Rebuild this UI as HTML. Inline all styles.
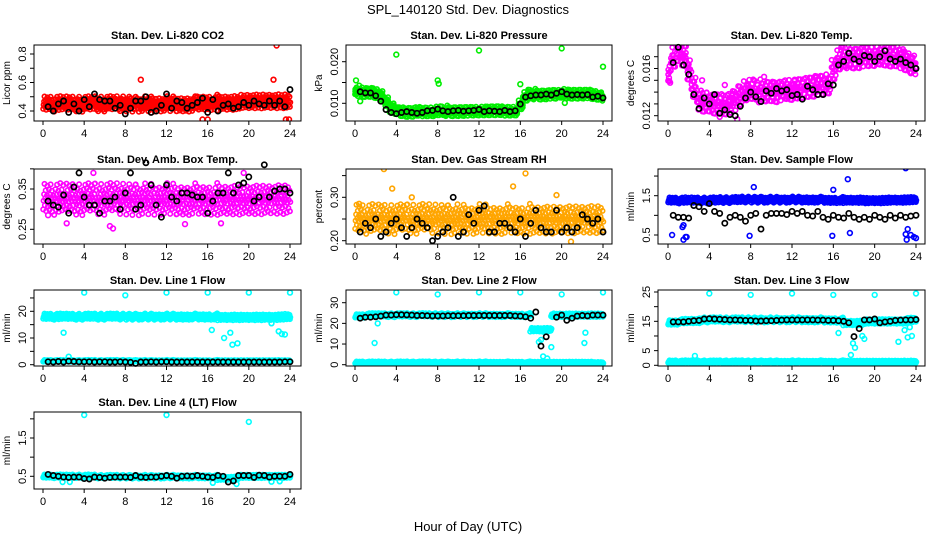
<!DOCTYPE html>
<html><head><meta charset="utf-8"><style>
html,body{margin:0;padding:0;background:#fff}
svg{display:block;font-family:"Liberation Sans",sans-serif}
</style></head><body>
<svg id="chart" width="936" height="540" viewBox="0 0 936 540">
<text x="468" y="14" text-anchor="middle" font-size="13">SPL_140120  Std. Dev. Diagnostics</text>
<text x="468" y="531" text-anchor="middle" font-size="13">Hour of Day (UTC)</text>
</svg>
<script>
// ---------- data ----------
const xTicks = [0,4,8,12,16,20,24];
const blackHours = [0.5,1,1.5,2,2.5,3,3.5,4,4.5,5,5.5,6,6.5,7,7.5,8,8.5,9,9.5,10,10.5,11,11.5,12,12.5,13,13.5,14,14.5,15,15.5,16,16.5,17,17.5,18,18.5,19,19.5,20,20.5,21,21.5,22,22.5,23,23.5,24];

const co2Black = [0.43,0.40,0.45,0.47,0.39,0.45,0.40,0.48,0.43,0.52,0.48,0.47,0.47,0.42,0.44,0.38,0.42,0.47,0.47,0.50,0.39,0.40,0.44,0.52,0.42,0.47,0.46,0.42,0.44,0.46,0.49,0.39,0.48,0.40,0.44,0.45,0.42,0.43,0.46,0.44,0.47,0.45,0.44,0.47,0.44,0.47,0.43,0.55];
const co2Color = [0.45,0.45,0.45,0.45,0.45,0.45,0.45,0.45,0.46,0.46,0.47,0.47,0.47];
const co2Out = [[9.5,0.62],[22.4,0.62],[22.7,0.86],[15.5,0.34],[16,0.34],[23.6,0.34],[23.9,0.34]];

const presBlack = [0.0128,0.0125,0.0125,0.0118,0.0105,0.0085,0.0078,0.0075,0.0078,0.0080,0.0078,0.0076,0.0078,0.0082,0.0083,0.0086,0.0082,0.0080,0.0082,0.0083,0.0081,0.0082,0.0083,0.0085,0.0080,0.0082,0.0081,0.0080,0.0083,0.0080,0.0082,0.0098,0.0115,0.0118,0.0120,0.0120,0.0122,0.0120,0.0124,0.0128,0.0122,0.0120,0.0121,0.0120,0.0121,0.0115,0.0117,0.0113];
const presColor = [0.013,0.013,0.0128,0.0128,0.0125,0.012,0.0105,0.009,0.0085,0.008,0.0078,0.0078,0.008,0.0078,0.0078,0.0078,0.008,0.008,0.0082,0.0082,0.0082,0.0082,0.0082,0.0082,0.0082,0.0082,0.0082,0.0082,0.0082,0.008,0.008,0.008,0.0095,0.0115,0.012,0.0122,0.0122,0.0122,0.0123,0.0123,0.0125,0.0123,0.0122,0.0122,0.0122,0.0122,0.012,0.0118,0.0115];
const presOut = [[0.1,0.0155],[4,0.0217],[8,0.0155],[8.1,0.0147],[12,0.0227],[16,0.0146],[20,0.0232],[24,0.0188],[0.5,0.0105],[20.3,0.0101]];

const tempBlack = [0.0165,0.0178,0.0163,0.0155,0.0138,0.0126,0.0135,0.0130,0.0138,0.0122,0.0125,0.0121,0.0120,0.0128,0.0135,0.0140,0.0136,0.0132,0.0141,0.0139,0.0143,0.0141,0.0142,0.0137,0.0138,0.0134,0.0145,0.0142,0.0138,0.0138,0.0147,0.0146,0.0163,0.0166,0.0173,0.0168,0.0166,0.0171,0.0170,0.0166,0.0170,0.0175,0.0168,0.0166,0.0168,0.0165,0.0163,0.0160];
const tempColor = [0.0156,0.0168,0.0176,0.0172,0.0160,0.0145,0.0134,0.0132,0.0132,0.0130,0.0130,0.0129,0.0130,0.0132,0.0136,0.0140,0.0141,0.0140,0.0141,0.0142,0.0142,0.0141,0.0142,0.0143,0.0142,0.0143,0.0143,0.0144,0.0144,0.0145,0.0145,0.0146,0.0158,0.0166,0.0168,0.0170,0.0170,0.0170,0.0171,0.0171,0.0171,0.0172,0.0171,0.0170,0.0170,0.0168,0.0166,0.0164,0.0162];
const tempOut = [[0.1,0.0152],[0.2,0.0148],[3.3,0.0150],[5.5,0.0146],[5.0,0.0119],[6.7,0.0117],[9.3,0.0153],[11.5,0.0136],[23.5,0.0156]];

const ambBlack = [0.32,0.31,0.305,0.335,0.29,0.355,0.39,0.33,0.31,0.31,0.29,0.32,0.32,0.33,0.30,0.34,0.39,0.30,0.31,0.415,0.36,0.31,0.28,0.36,0.33,0.32,0.34,0.34,0.335,0.33,0.33,0.29,0.32,0.34,0.34,0.39,0.34,0.36,0.365,0.38,0.32,0.33,0.41,0.33,0.345,0.35,0.35,0.34];
const ambColor = [0.325,0.325,0.325,0.325,0.325,0.325,0.325,0.325,0.325,0.325,0.325,0.325,0.325];
const ambOut = [[2.3,0.265],[4.9,0.39],[6.5,0.258],[6.8,0.252],[13.8,0.263],[17.3,0.265],[19.5,0.39],[0.5,0.285],[17.6,0.205]];

const rhBlack = [0.22,0.24,0.23,0.25,0.21,0.22,0.24,0.25,0.23,0.21,0.23,0.25,0.24,0.23,0.20,0.21,0.22,0.23,0.30,0.21,0.22,0.26,0.24,0.27,0.28,0.22,0.22,0.24,0.24,0.23,0.22,0.25,0.21,0.24,0.27,0.23,0.22,0.22,0.27,0.22,0.23,0.22,0.23,0.26,0.25,0.24,0.25,0.22];
const rhColor = [0.25,0.25,0.25,0.25,0.25,0.25,0.25,0.25,0.25,0.25,0.25,0.25,0.25];
const rhOut = [[2.8,0.365],[3.6,0.32],[15.3,0.325],[16.5,0.355],[19.5,0.305],[20.9,0.198],[0.4,0.285],[5.5,0.30]];

const flowBlack = [1.0,0.95,0.95,0.93,1.25,1.22,1.1,1.3,1.1,1.05,0.8,0.95,1.0,0.95,0.85,1.0,1.05,0.65,1.0,1.05,1.05,1.05,1.02,1.1,1.05,1.1,1.0,0.98,1.1,0.95,0.9,1.0,0.95,0.93,1.05,0.95,0.9,0.95,0.9,1.0,0.95,0.9,1.0,0.93,1.0,0.95,0.98,1.0];
const flowColor = [1.38,1.38,1.38,1.39,1.40,1.40,1.40,1.40,1.39,1.39,1.38,1.39,1.40];
const flowOut = [[0.4,0.5],[1.4,0.7],[1.5,0.75],[1.5,0.38],[1.7,0.45],[1.8,0.45],[8.3,1.72],[7.9,0.48],[15.9,0.48],[16,1.65],[17.4,1.92],[17.6,0.55],[23,2.2],[23.2,0.65],[23.1,0.38],[23.5,0.5],[23.8,0.45],[24,0.42],[23.0,0.52]];

const l1Black = [1.1,1.0,1.2,1.0,1.3,1.2,1.1,1.1,1.1,1.0,1.1,1.1,1.0,1.0,1.1,1.0,0.9,0.5,1.0,1.0,1.1,1.0,1.1,1.1,1.0,1.0,1.0,1.0,1.0,1.0,1.0,1.0,1.0,1.0,1.0,1.0,1.0,1.0,1.0,1.0,1.0,1.0,1.0,1.0,1.0,1.0,1.1,1.1];
const l1High = [18,18,18,18,18,18,18,18,18,17.8,17.8,17.8,18];
const l1Low = [1.4,1.4,1.4,1.4,1.4,1.4,1.4,1.4,1.4,1.4,1.4,1.4,1.4];
const l1Out = [[4,27],[8,26],[12,27],[16,27],[20,27],[24,27],[2,12],[2.5,3],[16.4,13],[17.6,10],[18.2,12],[18.4,7.5],[18.9,8],[22.9,12.5],[23.2,11.5],[23.5,11.3],[22.2,15.5]];

const l2Black = [22.5,23,23,23.2,23.5,24,24,24.2,24.2,24.1,24,23.8,23.8,23.7,23.6,23.6,23.6,23.7,23.7,23.7,23.7,23.8,23.8,23.8,23.8,23.8,23.8,23.8,23.8,23.8,23.6,23.5,23.2,22.5,25.5,9,13.5,null,23,24,21.5,22.5,23.5,23.8,23.6,24,24,24];
const l2High = [23.5,24,24,24,24,24,24,24,24,17,24,24,24];
const l2Low = [1,1,1,1,1,1,1,1,1,1,1,1,0.8];
const l2Out = [[4,35],[8,34],[12,35],[16,35],[20,34],[24,35],[1.9,10.5],[2.2,20],[17.8,11],[18,12],[18.2,4],[18.6,3],[19,8.5],[18.2,16],[22.3,15.5],[22.2,10.5]];

const l3Black = [14.8,14.8,14.8,15,15.2,15.3,15.8,15.9,15.8,15.7,15.6,15.5,15.5,15.4,15.3,15.3,15.1,15.1,15.2,15.2,15.3,15.4,15.5,15.5,15.5,15.5,15.5,15.5,15.4,15.4,15.3,15.3,15.2,15,14.5,9.8,12.5,15.5,15.5,15.8,14.5,14.8,15,15.3,15.4,15.5,15.5,15.6];
const l3High = [14.5,15,15.5,15.5,15.5,15.5,15.5,15.5,15.4,14.5,15,15,15.5];
const l3Low = [1.2,1.2,1.2,1.2,1.2,1.2,1.2,1.2,1.2,1.2,1.2,1.2,1.2];
const l3Out = [[4,24.5],[8,24],[12,24.5],[16,24],[20,24],[24,24.5],[2.6,3.2],[16.5,11],[17.7,3.5],[17.9,7.5],[18.1,6],[18.8,10],[19,9],[22.3,8],[22.9,12],[23.2,9.5],[23.4,13],[23.6,10],[1.6,0.3],[17.6,0.3]];

const l4Black = [0.55,0.52,0.50,0.48,0.47,0.48,0.48,0.44,0.43,0.48,0.47,0.45,0.47,0.48,0.48,0.48,0.47,0.52,0.48,0.47,0.48,0.48,0.50,0.52,0.50,0.45,0.50,0.51,0.50,0.52,0.50,0.48,0.47,0.52,0.50,0.35,0.38,0.52,0.52,0.52,0.47,0.53,0.52,0.48,0.50,0.50,0.50,0.55];
const l4Color = [0.50,0.50,0.50,0.49,0.49,0.49,0.49,0.49,0.49,0.45,0.50,0.50,0.50];
const l4Out = [[4,2.1],[12,2.1],[20,1.92],[1.9,0.35],[2.6,0.35],[16.5,0.33],[18.8,0.3],[22.2,0.36],[23.0,0.37]];

// ---------- layout ----------
const cols = [{x0:34,x1:301,h0:43,h24:290},{x0:346,x1:612,h0:355,h24:603},{x0:658,x1:925,h0:668,h24:916}];
const rows = [{y0:45,y1:121},{y0:169,y1:244},{y0:290,y1:366},{y0:412,y1:489}];
const MAG='#ff00ff', CY='#00ffff';
const panels = [
 {name:'co2',title:'Stan. Dev. Li-820 CO2',ylab:'Licor ppm',c:0,r:0,cal:[0.4,111,0.8,54],ticks:[0.4,0.5,0.6,0.7,0.8],labels:[0.4,0.6,0.8],fmt:1,black:co2Black,bands:[[co2Color,0.055]],col:'#ff0000',out:co2Out},
 {name:'pressure',title:'Stan. Dev. Li-820 Pressure',ylab:'kPa',c:1,r:0,cal:[0.010,103.3,0.020,61.7],ticks:[0.010,0.015,0.020],labels:[0.010,0.020],fmt:3,black:presBlack,bands:[[presColor,0.0013]],col:'#00ee00',out:presOut},
 {name:'temp',title:'Stan. Dev. Li-820 Temp.',ylab:'degrees C',c:2,r:0,cal:[0.012,115.7,0.016,68.5],ticks:[0.012,0.013,0.014,0.015,0.016,0.017],labels:[0.012,0.016],fmt:3,black:tempBlack,bands:[[tempColor,0.0010]],col:MAG,out:tempOut},
 {name:'amb-box-temp',title:'Stan. Dev. Amb. Box Temp.',ylab:'degrees C',c:0,r:1,cal:[0.25,229.3,0.35,189],ticks:[0.25,0.30,0.35,0.40],labels:[0.25,0.35],fmt:2,black:ambBlack,bands:[[ambColor,0.04]],col:MAG,out:ambOut},
 {name:'gas-rh',title:'Stan. Dev. Gas Stream RH',ylab:'percent',c:1,r:1,cal:[0.20,240.7,0.30,197.3],ticks:[0.20,0.25,0.30,0.35],labels:[0.20,0.30],fmt:2,black:rhBlack,bands:[[rhColor,0.035]],col:'#ffa500',out:rhOut},
 {name:'sample-flow',title:'Stan. Dev. Sample Flow',ylab:'ml/min',c:2,r:1,cal:[0.5,235,1.5,195.7],ticks:[0.5,1.0,1.5,2.0],labels:[0.5,1.5],fmt:1,black:flowBlack,bands:[[flowColor,0.08]],col:'#0000ff',out:flowOut},
 {name:'line1-flow',title:'Stan. Dev. Line 1 Flow',ylab:'ml/min',c:0,r:2,cal:[0,364.7,20,311.3],ticks:[0,5,10,15,20,25],labels:[0,10,20],fmt:0,black:l1Black,bands:[[l1High,1.2],[l1Low,0.4]],col:CY,out:l1Out},
 {name:'line2-flow',title:'Stan. Dev. Line 2 Flow',ylab:'ml/min',c:1,r:2,cal:[0,364.7,30,302.7],ticks:[0,10,20,30],labels:[0,10,20,30],fmt:0,black:l2Black,bands:[[l2High,1.0],[l2Low,0.6]],col:CY,out:l2Out},
 {name:'line3-flow',title:'Stan. Dev. Line 3 Flow',ylab:'ml/min',c:2,r:2,cal:[0,365.3,25,292],ticks:[0,5,10,15,20,25],labels:[0,5,15,25],fmt:0,black:l3Black,bands:[[l3High,0.9],[l3Low,0.5]],col:CY,out:l3Out},
 {name:'line4-flow',title:'Stan. Dev. Line 4 (LT) Flow',ylab:'ml/min',c:0,r:3,cal:[0.5,476.3,1.5,438],ticks:[0.5,1.0,1.5,2.0],labels:[0.5,1.5],fmt:1,black:l4Black,bands:[[l4Color,0.05]],col:CY,out:l4Out}
];
const NS='http://www.w3.org/2000/svg';
const svg=document.getElementById('chart');
function mk(tag,attrs,parent){const e=document.createElementNS(NS,tag);for(const k in attrs)e.setAttribute(k,attrs[k]);(parent||svg).appendChild(e);return e;}
function circ(x,y,r){return 'M'+(x+r).toFixed(1)+' '+y.toFixed(1)+'a'+r+' '+r+' 0 1 0 '+(-2*r)+' 0a'+r+' '+r+' 0 1 0 '+(2*r)+' 0';}
function frac(v){return v-Math.floor(v);}

panels.forEach(p=>{
  const C=cols[p.c],R=rows[p.r];
  const xs=h=>C.h0+(C.h24-C.h0)*h/24;
  const ys=v=>p.cal[1]+(v-p.cal[0])*(p.cal[3]-p.cal[1])/(p.cal[2]-p.cal[0]);
  const g=mk('g',{});
  
  
  const clip=mk('clipPath',{id:'cl-'+p.name},g);
  mk('rect',{x:C.x0,y:R.y0,width:C.x1-C.x0,height:R.y1-R.y0},clip);
  const t=mk('text',{x:(C.x0+C.x1)/2,y:R.y0-6,'text-anchor':'middle','font-size':'11','font-weight':'bold'},g);
  t.textContent=p.title;
  
  
  // colored cloud (visual jitter around data values)
  let d='';
  p.bands.forEach(b=>{
    const arr=b[0],s=b[1],step=24/(arr.length-1);
    const per=Math.round(620/arr.length);
    arr.forEach((v,i)=>{
      for(let k=0;k<per;k++){
        const h=i*step+(frac(k*0.754877+i*0.31)-0.5)*step*1.05;
        if(h<0||h>24.05)continue;
        const u=2*frac(k*0.569840+i*0.437)-1;
        const yy=v+u*Math.abs(u)*0.4*s+u*0.6*s;
        d+=circ(xs(h),ys(yy),2.2);
      }
    });
  });
  p.out.forEach(o=>{d+=circ(xs(o[0]),ys(o[1]),2.4);});
  const cloud=mk('path',{d:d,fill:'none',stroke:p.col,'stroke-width':1.6,'clip-path':'url(#cl-'+p.name+')'},g);
  
  
  // black points
  const bg=mk('g',{},g);
  
  
  p.black.forEach((v,i)=>{
    if(v===null)return;
    const c=mk('circle',{cx:xs(blackHours[i]).toFixed(1),cy:ys(v).toFixed(1),r:2.6,fill:'none',stroke:'#000','stroke-width':1.7},bg);
    
    
  });
  // box
  const box=mk('rect',{x:C.x0,y:R.y0,width:C.x1-C.x0,height:R.y1-R.y0,fill:'none',stroke:'#000','stroke-width':1},g);
  
  
  // x axis
  const xa=mk('g',{},g);
  
  
  mk('line',{x1:xs(0),x2:xs(24),y1:R.y1,y2:R.y1,stroke:'#000'},xa);
  xTicks.forEach(h=>{
    mk('line',{x1:xs(h),x2:xs(h),y1:R.y1,y2:R.y1+4,stroke:'#000'},xa);
    const tt=mk('text',{x:xs(h),y:R.y1+16,'text-anchor':'middle','font-size':'11'},xa);
    tt.textContent=h;
  });
  // y axis
  const ya=mk('g',{},g);
  
  
  mk('line',{x1:C.x0,x2:C.x0,y1:ys(p.ticks[0]),y2:ys(p.ticks[p.ticks.length-1]),stroke:'#000'},ya);
  p.ticks.forEach(v=>{mk('line',{x1:C.x0-4,x2:C.x0,y1:ys(v),y2:ys(v),stroke:'#000'},ya);});
  p.labels.forEach(v=>{
    const x=C.x0-8,y=ys(v);
    const tt=mk('text',{x:x,y:y,'text-anchor':'middle','font-size':'11',transform:'rotate(-90 '+x+' '+y+')'},ya);
    tt.textContent=v.toFixed(p.fmt);
  });
  const yl=mk('text',{x:C.x0-24,y:(R.y0+R.y1)/2,'text-anchor':'middle','font-size':'10',transform:'rotate(-90 '+(C.x0-24)+' '+((R.y0+R.y1)/2)+')'},g);
  yl.textContent=p.ylab;
  
  
});
</script>
</body></html>
